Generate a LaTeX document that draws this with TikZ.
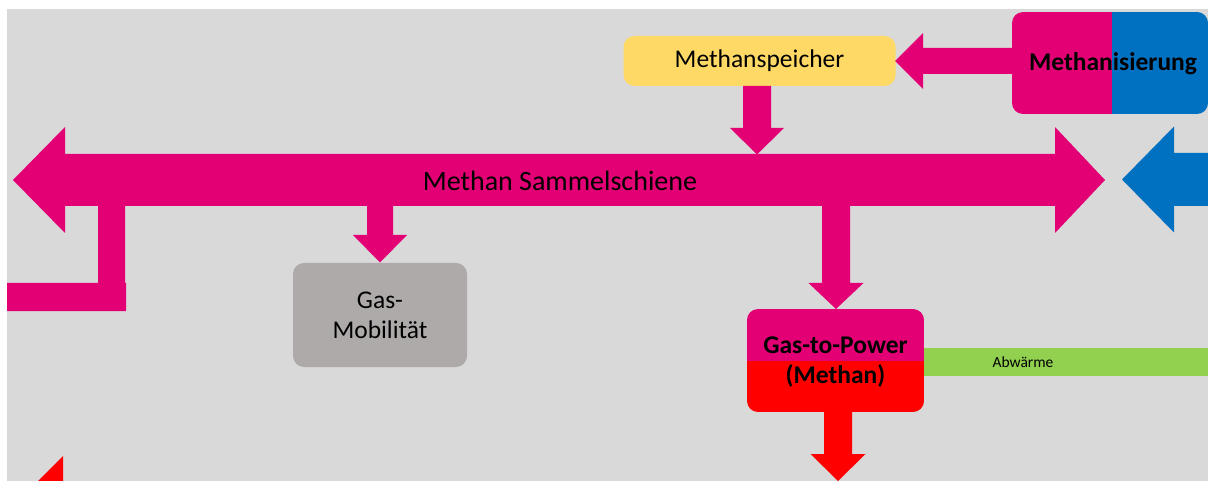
\documentclass[tikz,border=0pt]{standalone}
\usepackage{fontspec}
\setmainfont{Carlito}
\definecolor{canvas}{HTML}{D9D9D9}
\definecolor{methan}{HTML}{E20074}
\definecolor{wasserstoff}{HTML}{0070C0}
\definecolor{strom}{HTML}{FF0000}
\definecolor{speicher}{HTML}{FFD966}
\definecolor{mobil}{HTML}{AEAAAA}
\definecolor{waerme}{HTML}{92D050}
% vertical block arrow pointing down:
% colour, x centre, y top, y head base, y tip, shaft half width, head half width
\newcommand\downblock[7]{%
  \fill[#1] (#2-#6,#3) -- (#2+#6,#3) -- (#2+#6,#4) -- (#2+#7,#4) -- (#2,#5)
    -- (#2-#7,#4) -- (#2-#6,#4) -- cycle;}
% horizontal block arrow pointing left:
% colour, x tip, x head base, x tail, y centre, shaft half width, head half width
\newcommand\leftblock[7]{%
  \fill[#1] (#2,#5) -- (#3,#5-#7) -- (#3,#5-#6) -- (#4,#5-#6) -- (#4,#5+#6)
    -- (#3,#5+#6) -- (#3,#5+#7) -- cycle;}
\tikzset{
  box/.style={rounded corners=11pt, inner sep=0pt, align=center},
  label/.style={inner sep=0pt, align=center, text=black},
}
\begin{document}
\begin{tikzpicture}[x=1pt,y=-1pt]
  \useasboundingbox (0,0) rectangle (1208,481);
  \fill[white] (0,0) rectangle (1208,481);
  \fill[canvas] (7,9) rectangle (1208,481);

  % methane bus bar (double block arrow)
  \fill[methan] (13,180) -- (65,127) -- (65,154) -- (1055,154) -- (1055,127)
    -- (1105,180) -- (1055,233) -- (1055,206) -- (65,206) -- (65,233) -- cycle;
  \node[label, font=\fontsize{28}{28}\selectfont] (bus) at (560,181) {Methan Sammelschiene};

  % branch to the left
  \fill[methan] (98,206) -- (125,206) -- (125,283) -- (126,283) -- (126,311)
    -- (7,311) -- (7,283) -- (98,283) -- cycle;

  % hydrogen feed from the right
  \leftblock{wasserstoff}{1122}{1174}{1208}{179.5}{26.5}{53}

  % methanation unit
  \begin{scope}
    \clip[rounded corners=11pt] (1012,12) rectangle (1208,114);
    \fill[methan] (1012,12) rectangle (1112,114);
    \fill[wasserstoff] (1112,12) rectangle (1208,114);
  \end{scope}
  \node[label, font=\fontsize{25.5}{25.5}\selectfont\bfseries] (meth) at (1113,64) {Methanisierung};

  % methane storage
  \node[box, fill=speicher, minimum width=272pt, minimum height=50pt,
        font=\fontsize{25.5}{25.5}\selectfont] (store) at (759.5,61) {Methanspeicher};
  \leftblock{methan}{895}{923}{1012}{61}{13}{28}
  \downblock{methan}{757}{86}{128}{154.5}{14}{27}

  % gas mobility
  \node[box, fill=mobil, minimum width=174pt, minimum height=104pt,
        font=\fontsize{25.5}{30}\selectfont] (mob) at (380,315) {Gas-\\Mobilität};
  \downblock{methan}{380}{206}{235}{262.5}{13}{27}

  % gas-to-power
  \begin{scope}
    \clip[rounded corners=11pt] (747,309) rectangle (924,412);
    \fill[methan] (747,309) rectangle (924,361);
    \fill[strom] (747,361) rectangle (924,412);
  \end{scope}
  \node[label, font=\fontsize{25.5}{30}\selectfont\bfseries] (g2p) at (835.5,362) {Gas-to-Power\\(Methan)};
  \downblock{methan}{836}{206}{283}{309}{14}{27.5}
  \downblock{strom}{838}{412}{454}{481}{14}{27.5}

  % waste heat
  \fill[waerme] (924,348) rectangle (1208,376);
  \node[label, font=\fontsize{15.5}{15.5}\selectfont] (heat) at (1023,362) {Abwärme};

  % red arrow entering at the lower left
  \fill[strom] (63,456) -- (63,481) -- (38,481) -- cycle;
\end{tikzpicture}
\end{document}
